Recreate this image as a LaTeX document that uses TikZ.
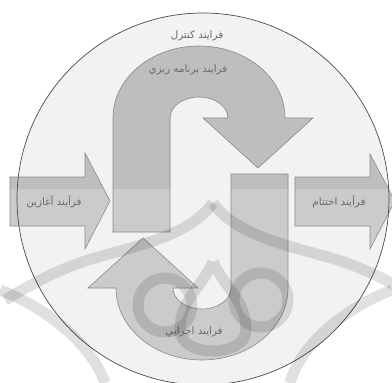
\documentclass[tikz,border=0pt]{standalone}
\usepackage{fontspec}
\newfontfamily\arabicfont[Script=Arabic]{DejaVu Sans}
\TeXXeTstate=1
\definecolor{circlefill}{HTML}{F2F2F2}
\definecolor{circleedge}{HTML}{4A4A4A}
\definecolor{arrowlight}{HTML}{CBCBCB}
\definecolor{arrowdark}{HTML}{BEBEBE}
\definecolor{arrowedge}{HTML}{8A8A8A}
\definecolor{labelgray}{HTML}{6A6A6A}
\def\pathtop{(113,232) -- (113,118) arc[start angle=180,end angle=360,x radius=86,y radius=72] -- (313,118) -- (258,168) -- (203,118) -- (228,118) arc[start angle=360,end angle=180,x radius=29,y radius=21] -- (170,232) -- cycle}
\def\pathleft{(10,177) -- (85,177) -- (85,153) -- (110,201) -- (85,249) -- (85,226) -- (10,226) -- cycle}
\def\pathright{(295,177) -- (370,177) -- (370,154) -- (395,201) -- (370,249) -- (370,226) -- (295,226) -- cycle}
\begin{document}
\begin{tikzpicture}[x=1pt,y=-1pt,
  bottomarrow/.style={shift={(1,0)},rotate around={180:(200,203)}},
  lightfill/.style={fill=arrowlight},
  darkfill/.style={fill=arrowdark},
  outline/.style={draw=arrowedge,line width=0.6pt},
  lbl/.style={font=\arabicfont\fontsize{10.3}{12}\selectfont,text=labelgray,inner sep=0pt},
  wm/.style={draw=black,draw opacity=0.12,line width=11pt}]
\useasboundingbox (0,0) rectangle (392,383);
\fill[white] (0,0) rectangle (392,383);
% outer circle fill
\fill[circlefill] (203,199) circle (186);
% arrows, light fill
\fill[lightfill] \pathleft;
\fill[lightfill] \pathright;
\fill[lightfill] \pathtop;
\begin{scope}[bottomarrow]
  \fill[lightfill] \pathtop;
\end{scope}
% darker upper part
\begin{scope}
  \clip (0,0) rectangle (392,188);
  \fill[darkfill] \pathleft;
  \fill[darkfill] \pathright;
  \fill[darkfill] \pathtop;
  \begin{scope}[bottomarrow]
    \fill[darkfill] \pathtop;
  \end{scope}
\end{scope}
% outlines
\draw[outline] \pathleft;
\draw[outline] \pathright;
\draw[outline] \pathtop;
\begin{scope}[bottomarrow]
  \draw[outline] \pathtop;
\end{scope}
% circle outline
\draw[circleedge,line width=0.7pt] (203,199) circle (186);
% labels
\node[lbl] (control) at (197,36) {\beginR فرایند کنترل\endR};
\node[lbl] (planning) at (188,70) {\beginR فرایند برنامه ریزي\endR};
\node[lbl] (start) at (54,202) {\beginR فرآیند آغازین\endR};
\node[lbl] (finish) at (339,202) {\beginR فرآیند اختتام\endR};
\node[lbl] (execution) at (194,332) {\beginR فرایند اجرایي\endR};
% watermark
\draw[wm] (213,203) .. controls (190,235) and (140,245) .. (95,258) .. controls (60,268) and (30,285) .. (5,300);
\draw[wm] (213,203) .. controls (236,235) and (286,245) .. (331,258) .. controls (366,268) and (396,285) .. (421,300);
\draw[wm] (165,305) circle (27);
\draw[wm] (261,300) circle (27);
\draw[wm] (213,262) .. controls (200,290) and (180,300) .. (180,330) .. controls (180,358) and (246,358) .. (246,330) .. controls (246,300) and (226,290) .. (213,262);
\draw[wm] (0,290) .. controls (40,305) and (90,340) .. (105,383);
\draw[wm] (392,290) .. controls (352,305) and (302,340) .. (290,383);
\end{tikzpicture}
\end{document}
